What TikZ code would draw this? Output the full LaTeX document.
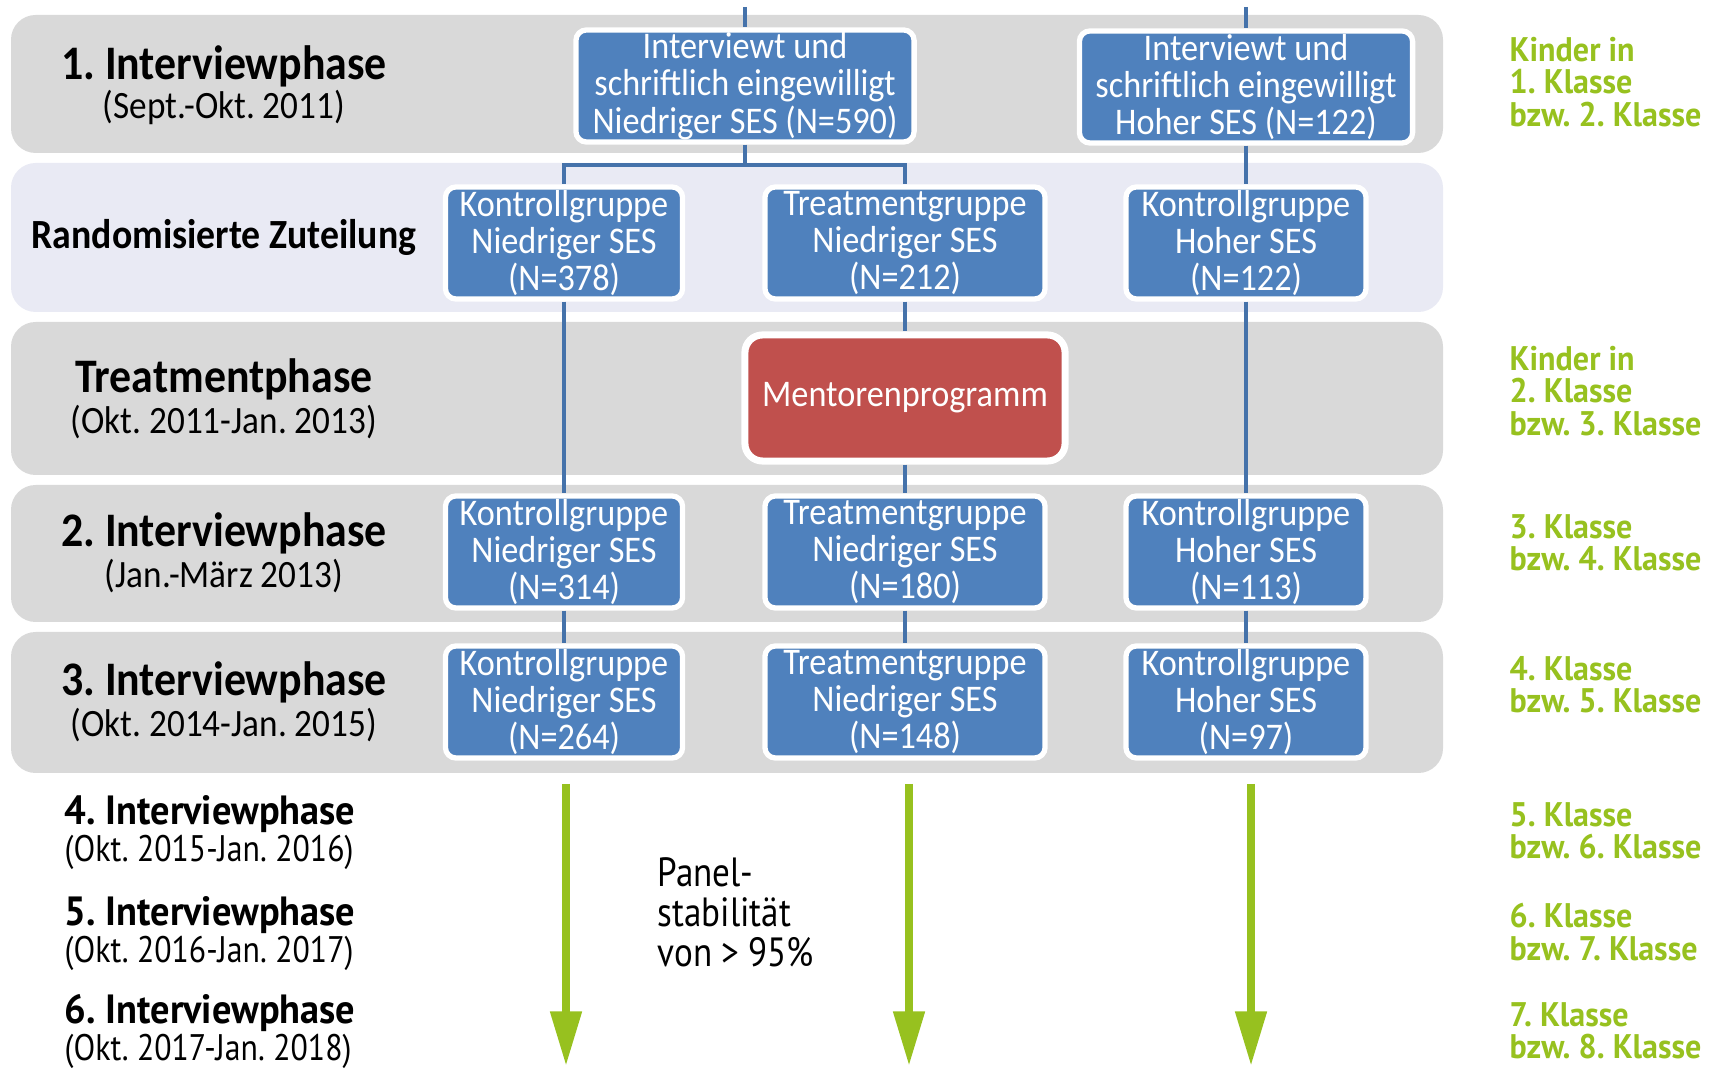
\documentclass[tikz,border=0pt]{standalone}
\usepackage{fontspec}
\setmainfont{Carlito}[FakeStretch=0.91]
\newfontfamily\dinfont{PT Sans}[FakeStretch=0.94]
\newfontfamily\dinlight{PT Sans}[FakeStretch=0.86]
\usetikzlibrary{arrows.meta,positioning}
\frenchspacing

\definecolor{boxblue}{RGB}{79,129,189}
\definecolor{linkblue}{RGB}{69,114,170}
\definecolor{mentorred}{RGB}{192,80,77}
\definecolor{bandgray}{RGB}{217,217,217}
\definecolor{bandlilac}{RGB}{233,234,244}
\definecolor{klassegreen}{RGB}{151,193,31}

\tikzset{
  groupbox/.style={draw=white, line width=1.5pt, fill=boxblue, rounded corners=3pt,
    text=white, align=center, inner xsep=2pt, inner ysep=0pt, minimum height=1.12cm,
    font=\fontsize{10.7}{10.6}\selectfont},
  phasetitle/.style={font=\bfseries\fontsize{13.7}{14}\selectfont, inner sep=0pt},
  phasedate/.style={font=\fontsize{11}{12}\selectfont, inner sep=0pt},
  laterphase/.style={font=\dinfont\bfseries\fontsize{11.6}{12}\selectfont, inner sep=0pt, anchor=west},
  laterdate/.style={font=\dinlight\fontsize{10.5}{11}\selectfont, inner sep=0pt, anchor=west},
  klasse/.style={font=\dinfont\bfseries\fontsize{9.7}{9.2}\selectfont, text=klassegreen,
    align=left, inner sep=0pt, anchor=west},
  link/.style={draw=linkblue, line width=1.4pt},
  panelarrow/.style={draw=klassegreen, line width=2.3pt,
    -{Triangle[width=8.5pt,length=15.5pt]}}
}

\begin{document}
\begin{tikzpicture}[x=0.01cm, y=-0.01cm]
  \useasboundingbox (0,0) rectangle (1731,1068);

  % Hintergrundbalken der Phasen
  \foreach \top/\bot/\col in {15/153/bandgray,163/312/bandlilac,322/475/bandgray,485/622/bandgray,632/773/bandgray}{
    \fill[\col, rounded corners=7pt] (11,\top) rectangle (1443,\bot);
  }

  % Phasen links
  \node[phasetitle] (Phase1) at (224,66) {1. Interviewphase};
  \node[phasedate] (Phase1Date) at (224,107) {(Sept.-Okt. 2011)};
  \node[phasetitle, font=\bfseries\fontsize{11.8}{12}\selectfont] (Zuteilung) at (224,237) {Randomisierte Zuteilung};
  \node[phasetitle] (Treatment) at (224,379) {Treatmentphase};
  \node[phasedate] (TreatmentDate) at (224,422) {(Okt. 2011-Jan. 2013)};
  \node[phasetitle] (Phase2) at (224,533) {2. Interviewphase};
  \node[phasedate] (Phase2Date) at (224,576) {(Jan.-März 2013)};
  \node[phasetitle] (Phase3) at (224,682) {3. Interviewphase};
  \node[phasedate] (Phase3Date) at (224,725) {(Okt. 2014-Jan. 2015)};

  \node[laterphase] (Phase4) at (64,814) {4. Interviewphase};
  \node[laterdate] (Phase4Date) at (64,852) {(Okt. 2015-Jan. 2016)};
  \node[laterphase] (Phase5) at (64,915) {5. Interviewphase};
  \node[laterdate] (Phase5Date) at (64,953) {(Okt. 2016-Jan. 2017)};
  \node[laterphase] (Phase6) at (64,1013) {6. Interviewphase};
  \node[laterdate] (Phase6Date) at (64,1051) {(Okt. 2017-Jan. 2018)};

  % Gruppen
  \node[groupbox, minimum width=3.38cm] (EingewilligtNiedrig) at (745,86)
    {Interviewt und\\schriftlich eingewilligt\\Niedriger SES (N=590)};
  \node[groupbox, minimum width=3.33cm] (EingewilligtHoch) at (1246,87)
    {Interviewt und\\schriftlich eingewilligt\\Hoher SES (N=122)};
  \foreach \row/\y/\kn/\tn/\kh in {A/243/378/212/122,B/552/314/180/113,C/702/264/148/97}{
    \node[groupbox, minimum width=2.37cm] (KontrollNiedrig\row) at (564,\y)
      {Kontrollgruppe\\Niedriger SES\\(N=\kn)};
    \node[groupbox, minimum width=2.80cm] (TreatmentNiedrig\row) at (905,\y)
      {Treatmentgruppe\\Niedriger SES\\(N=\tn)};
    \node[groupbox, minimum width=2.40cm] (KontrollHoch\row) at (1246,\y)
      {Kontrollgruppe\\Hoher SES\\(N=\kh)};
  }
  \node[groupbox, fill=mentorred, line width=2pt, rounded corners=5pt,
    minimum width=3.2cm, minimum height=1.26cm] (Mentoren) at (905,398) {Mentorenprogramm};

  % Verbindungen
  \coordinate (StartNiedrig) at (745,7);
  \coordinate (StartHoch) at (1246,7);
  \coordinate (Verzweigung) at (745,165);
  \begin{scope}[link]
    \draw (StartNiedrig) -- (EingewilligtNiedrig);
    \draw (StartHoch) -- (EingewilligtHoch);
    \draw (EingewilligtNiedrig) -- (Verzweigung) -| (KontrollNiedrigA);
    \draw (Verzweigung) -| (TreatmentNiedrigA);
    \draw (EingewilligtHoch) -- (KontrollHochA);
    \draw (KontrollNiedrigA) -- (KontrollNiedrigB);
    \draw (TreatmentNiedrigA) -- (Mentoren) -- (TreatmentNiedrigB);
    \draw (KontrollHochA) -- (KontrollHochB);
    \foreach \col in {KontrollNiedrig,TreatmentNiedrig,KontrollHoch}
      \draw (\col B) -- (\col C);
  \end{scope}

  % Panel ab der 4. Phase
  \foreach \i/\x in {1/566,2/909,3/1251}{
    \coordinate (PanelTop\i) at (\x,784);
    \coordinate (PanelEnd\i) at (\x,1066);
    \draw[panelarrow] (PanelTop\i) -- (PanelEnd\i);
  }
  \node[font=\dinlight\fontsize{11.6}{11.3}\selectfont, align=left, inner sep=0pt,
    anchor=north west] (Panel) at (657,857) {Panel-\\stabilität\\von > 95\%};

  % Klassenstufen rechts
  \node[klasse] (Klasse1) at (1509,82) {Kinder in\\1. Klasse\\bzw. 2. Klasse};
  \node[klasse] (Klasse2) at (1509,391) {Kinder in\\2. Klasse\\bzw. 3. Klasse};
  \node[klasse] (Klasse3) at (1509,543) {3. Klasse\\bzw. 4. Klasse};
  \node[klasse] (Klasse4) at (1509,685) {4. Klasse\\bzw. 5. Klasse};
  \node[klasse] (Klasse5) at (1509,831) {5. Klasse\\bzw. 6. Klasse};
  \node[klasse] (Klasse6) at (1509,932) {6. Klasse\\bzw. 7. Klasse};
  \node[klasse] (Klasse7) at (1509,1031) {7. Klasse\\bzw. 8. Klasse};
\end{tikzpicture}
\end{document}
